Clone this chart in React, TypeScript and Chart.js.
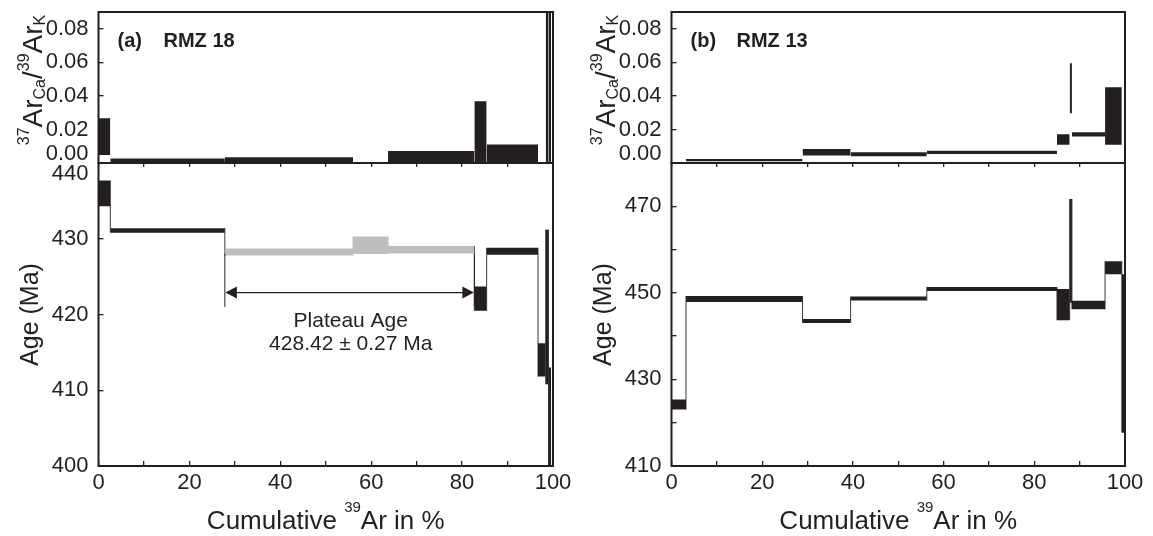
import React, { useEffect, useRef } from 'react';
import { Chart, registerables } from 'chart.js';

Chart.register(...registerables);

const W = 1153;
const H = 536;
const FONT = "'Liberation Sans', Arial, Helvetica, sans-serif";
const INK = '#231f20';
const GRAY = '#bcbec0';
const LINK = '#3a3a3a';

// ---------------- data ----------------
// x tick labels (cumulative 39Ar %)
const CUM_TICK_LABELS = ['0', '20', '40', '60', '80', '100'];
// Ca/K tick labels
const CAK_TICK_LABELS = ['0.00', '0.02', '0.04', '0.06', '0.08'];
const CAK_MIN = 0;
const CAK_MAX = 0.09;

// Panel (a) RMZ 18
const A_STEPS = [0, 2.6, 27.8, 56.0, 63.7, 82.7, 85.4, 96.7, 98.4, 99.0, 99.6];
const A_AGE = [436.0, 431.1, 428.25, 429.15, 428.55, 422.1, 428.35, 414.0, 421.0, 406.0];
const A_AGE_ERR = [1.7, 0.3, 0.45, 1.15, 0.5, 1.6, 0.45, 2.2, 10.2, 7.0];
const A_PLATEAU = [false, false, true, true, true, false, false, false, false, false];
const A_CAK = [0.0157, 0.0012, 0.0017, 0.0, 0.0036, 0.0184, 0.0055, -0.003, 0.05, 0.05];
const A_CAK_ERR = [0.0109, 0.0015, 0.0017, 0.0004, 0.0036, 0.0184, 0.0055, 0.002, 0.06, 0.06];
const A_AGE_TICK_LABELS = ['400', '410', '420', '430', '440'];

// Panel (b) RMZ 13
const B_STEPS = [0, 3.2, 28.9, 39.5, 56.3, 85.0, 87.8, 88.3, 95.6, 99.3, 99.8];
const B_AGE = [424.2, 448.6, 443.5, 448.7, 450.9, 447.3, 459.7, 447.2, 455.8, 436.0];
const B_AGE_ERR = [1.15, 0.7, 0.45, 0.45, 0.45, 3.6, 12.0, 1.0, 1.5, 18.3];
const B_PLATEAU = [false, false, false, false, false, false, false, false, false, false];
const B_CAK = [null, 0.0017, 0.0064, 0.0052, 0.0063, 0.014, 0.0446, 0.0171, 0.028, null];
const B_CAK_ERR = [0, 0.0007, 0.0019, 0.0012, 0.001, 0.0031, 0.0149, 0.0013, 0.0171, 0];
const B_AGE_TICK_LABELS = ['410', '430', '450', '470'];

// Plateau annotation (panel a)
const PLATEAU_START = 27.8;
const PLATEAU_END = 82.7;
const PLATEAU_MARK_TOP = 428.0;
const PLATEAU_MARK_BOTTOM = 421.0;
const PLATEAU_ARROW_AGE = 422.9;
const PLATEAU_TEXT = ['Plateau Age', '428.42 \u00b1 0.27 Ma'];
const PLATEAU_TEXT_X = 55.5;
const PLATEAU_TEXT_Y = [418.3, 415.3];

const PANELS = [
  {
    tag: '(a)', sample: 'RMZ 18', steps: A_STEPS, age: A_AGE, ageErr: A_AGE_ERR, plateau: A_PLATEAU,
    cak: A_CAK, cakErr: A_CAK_ERR, ageMin: 400, ageMax: 440, ageLabels: A_AGE_TICK_LABELS, showPlateau: true,
  },
  {
    tag: '(b)', sample: 'RMZ 13', steps: B_STEPS, age: B_AGE, ageErr: B_AGE_ERR, plateau: B_PLATEAU,
    cak: B_CAK, cakErr: B_CAK_ERR, ageMin: 410, ageMax: 480, ageLabels: B_AGE_TICK_LABELS, showPlateau: false,
  },
];

// ---------------- layout ----------------
const PLOT_X = [[98.5, 553], [671.5, 1125]];
const TOP_Y = 12;
const MID_Y = 163;
const BOT_Y = 466;

function boxSets(steps: number[], vals: (number | null)[], errs: number[], colors: string[]) {
  const out: any[] = [];
  for (let i = 0; i < vals.length; i++) {
    const v = vals[i];
    if (v == null) continue;
    const e = errs[i];
    out.push({
      type: 'line',
      data: [{ x: steps[i], y: v + e }, { x: steps[i + 1], y: v + e }],
      fill: { value: v - e },
      backgroundColor: colors[i],
      borderColor: 'rgba(0,0,0,0)',
      borderWidth: 0,
      pointRadius: 0,
      pointHoverRadius: 0,
    });
  }
  return out;
}

function linkSets(steps: number[], vals: number[], errs: number[], plateau: boolean[]) {
  const out: any[] = [];
  for (let j = 1; j < vals.length; j++) {
    const lo = Math.min(vals[j - 1] - errs[j - 1], vals[j] - errs[j]);
    const hi = Math.max(vals[j - 1] + errs[j - 1], vals[j] + errs[j]);
    out.push({
      type: 'line',
      data: [{ x: steps[j], y: lo }, { x: steps[j], y: hi }],
      borderColor: plateau[j - 1] && plateau[j] ? GRAY : LINK,
      borderWidth: 1,
      pointRadius: 0,
      fill: false,
    });
  }
  return out;
}

function drawFrame(ctx: CanvasRenderingContext2D, a: any) {
  ctx.save();
  ctx.strokeStyle = INK;
  ctx.lineWidth = 2;
  ctx.strokeRect(a.left, a.top, a.right - a.left, a.bottom - a.top);
  ctx.restore();
}

function drawYLabels(chart: any, labels: string[], fmt: (v: number) => string, clamp: 'top' | 'bottom') {
  const ctx = chart.ctx;
  const s = chart.scales.y;
  const a = chart.chartArea;
  ctx.save();
  ctx.font = `22px ${FONT}`;
  ctx.fillStyle = INK;
  ctx.textAlign = 'right';
  ctx.textBaseline = 'middle';
  for (const t of s.ticks) {
    const label = fmt(t.value);
    if (!labels.includes(label)) continue;
    let y = s.getPixelForValue(t.value);
    if (clamp === 'bottom') y = Math.min(y, a.bottom - 9);
    else y = Math.max(y, a.top + 11);
    ctx.fillText(label, a.left - 10, y);
  }
  ctx.restore();
}

type Part = { t: string; size: number; dy: number };

function drawParts(ctx: CanvasRenderingContext2D, parts: Part[], cx: number, base: number) {
  let total = 0;
  for (const p of parts) {
    ctx.font = `${p.size}px ${FONT}`;
    total += ctx.measureText(p.t).width;
  }
  let x = cx - total / 2;
  ctx.textAlign = 'left';
  ctx.textBaseline = 'alphabetic';
  for (const p of parts) {
    ctx.font = `${p.size}px ${FONT}`;
    ctx.fillText(p.t, x, base + p.dy);
    x += ctx.measureText(p.t).width;
  }
}

const CAK_TITLE: Part[] = [
  { t: '37', size: 16, dy: -13 },
  { t: 'Ar', size: 28, dy: 0 },
  { t: 'Ca', size: 16, dy: 3 },
  { t: '/', size: 28, dy: 0 },
  { t: '39', size: 16, dy: -13 },
  { t: 'Ar', size: 28, dy: 0 },
  { t: 'K', size: 16, dy: 3 },
];

const X_TITLE: Part[] = [
  { t: 'Cumulative ', size: 26, dy: 0 },
  { t: '39', size: 15, dy: -17 },
  { t: 'Ar in %', size: 26, dy: 0 },
];

function topDeco(p: any, idx: number) {
  return {
    id: 'topDeco' + idx,
    afterDraw(chart: any) {
      const ctx = chart.ctx;
      const a = chart.chartArea;
      drawFrame(ctx, a);
      drawYLabels(chart, CAK_TICK_LABELS, (v) => v.toFixed(2), 'bottom');
      ctx.save();
      ctx.fillStyle = INK;
      ctx.translate(a.left - 57, 80);
      ctx.rotate(-Math.PI / 2);
      drawParts(ctx, CAK_TITLE, 0, 0);
      ctx.restore();
      ctx.save();
      ctx.fillStyle = INK;
      ctx.font = `bold 20px ${FONT}`;
      ctx.textAlign = 'left';
      ctx.textBaseline = 'alphabetic';
      ctx.fillText(p.tag, a.left + 19, 47);
      ctx.fillText(p.sample, a.left + 65, 47);
      ctx.restore();
    },
  };
}

function bottomDeco(p: any, idx: number) {
  return {
    id: 'bottomDeco' + idx,
    afterDatasetsDraw(chart: any) {
      if (!p.showPlateau) return;
      const ctx = chart.ctx;
      const xs = chart.scales.x;
      const ys = chart.scales.y;
      const x0 = xs.getPixelForValue(PLATEAU_START);
      const x1 = xs.getPixelForValue(PLATEAU_END);
      const yTop = ys.getPixelForValue(PLATEAU_MARK_TOP);
      const yBot = ys.getPixelForValue(PLATEAU_MARK_BOTTOM);
      const ya = ys.getPixelForValue(PLATEAU_ARROW_AGE);
      ctx.save();
      ctx.strokeStyle = INK;
      ctx.fillStyle = INK;
      ctx.lineWidth = 1;
      ctx.beginPath();
      ctx.moveTo(x0, yTop);
      ctx.lineTo(x0, yBot);
      ctx.moveTo(x1, yTop);
      ctx.lineTo(x1, yBot);
      ctx.stroke();
      ctx.lineWidth = 1.2;
      ctx.beginPath();
      ctx.moveTo(x0 + 10, ya);
      ctx.lineTo(x1 - 10, ya);
      ctx.stroke();
      const ah = 12;
      const hw = 6;
      ctx.beginPath();
      ctx.moveTo(x0 + 0.5, ya);
      ctx.lineTo(x0 + ah, ya - hw);
      ctx.lineTo(x0 + ah, ya + hw);
      ctx.closePath();
      ctx.fill();
      ctx.beginPath();
      ctx.moveTo(x1 - 0.5, ya);
      ctx.lineTo(x1 - ah, ya - hw);
      ctx.lineTo(x1 - ah, ya + hw);
      ctx.closePath();
      ctx.fill();
      ctx.font = `21px ${FONT}`;
      ctx.textAlign = 'center';
      ctx.textBaseline = 'alphabetic';
      const tx = xs.getPixelForValue(PLATEAU_TEXT_X);
      ctx.fillText(PLATEAU_TEXT[0], tx, ys.getPixelForValue(PLATEAU_TEXT_Y[0]));
      ctx.fillText(PLATEAU_TEXT[1], tx, ys.getPixelForValue(PLATEAU_TEXT_Y[1]));
      ctx.restore();
    },
    afterDraw(chart: any) {
      const ctx = chart.ctx;
      const a = chart.chartArea;
      drawFrame(ctx, a);
      drawYLabels(chart, p.ageLabels, (v) => String(Math.round(v)), 'top');
      ctx.save();
      ctx.fillStyle = INK;
      ctx.font = `25px ${FONT}`;
      ctx.textAlign = 'center';
      ctx.textBaseline = 'alphabetic';
      ctx.translate(a.left - 61, (a.top + a.bottom) / 2);
      ctx.rotate(-Math.PI / 2);
      ctx.fillText('Age (Ma)', 0, 0);
      ctx.restore();
      ctx.save();
      ctx.fillStyle = INK;
      drawParts(ctx, X_TITLE, (a.left + a.right) / 2, 529);
      ctx.restore();
    },
  };
}

function topConfig(p: any, idx: number): any {
  const [L, R] = PLOT_X[idx];
  const colors = p.cak.map(() => INK);
  return {
    type: 'line',
    data: { datasets: boxSets(p.steps, p.cak, p.cakErr, colors) },
    options: {
      animation: false,
      responsive: false,
      events: [],
      layout: { padding: { left: L, right: W - R, top: TOP_Y, bottom: H - MID_Y - 5 } },
      plugins: { legend: { display: false }, tooltip: { enabled: false } },
      scales: {
        x: {
          type: 'linear', min: 0, max: 100,
          afterFit: (s: any) => { s.height = 5; },
          ticks: { display: false, stepSize: 10 },
          grid: { drawOnChartArea: false, tickLength: 4, color: INK, lineWidth: 1.3 },
          border: { display: false },
        },
        y: {
          type: 'linear', min: CAK_MIN, max: CAK_MAX,
          afterFit: (s: any) => { s.width = 0; },
          ticks: { display: false, stepSize: 0.02, includeBounds: false },
          grid: { drawOnChartArea: false, tickLength: -5, color: INK, lineWidth: 1.3 },
          border: { display: false },
        },
      },
    },
    plugins: [topDeco(p, idx)],
  };
}

function bottomConfig(p: any, idx: number): any {
  const [L, R] = PLOT_X[idx];
  const colors = p.plateau.map((q: boolean) => (q ? GRAY : INK));
  const datasets = [
    ...boxSets(p.steps, p.age, p.ageErr, colors),
    ...linkSets(p.steps, p.age, p.ageErr, p.plateau),
  ];
  return {
    type: 'line',
    data: { datasets },
    options: {
      animation: false,
      responsive: false,
      events: [],
      layout: { padding: { left: L, right: W - R, top: MID_Y, bottom: 0 } },
      plugins: { legend: { display: false }, tooltip: { enabled: false } },
      scales: {
        x: {
          type: 'linear', min: 0, max: 100,
          afterFit: (s: any) => { s.height = H - BOT_Y; },
          ticks: {
            stepSize: 10, autoSkip: false, maxRotation: 0, minRotation: 0, padding: 9,
            color: INK, font: { family: FONT, size: 22 },
            callback: (v: number) => (CUM_TICK_LABELS.includes(String(v)) ? String(v) : ''),
          },
          grid: { drawOnChartArea: false, tickLength: -5, color: INK, lineWidth: 1.3 },
          border: { display: false },
        },
        y: {
          type: 'linear', min: p.ageMin, max: p.ageMax,
          afterFit: (s: any) => { s.width = 0; },
          ticks: { display: false, stepSize: 10 },
          grid: { drawOnChartArea: false, tickLength: -5, color: INK, lineWidth: 1.3 },
          border: { display: false },
        },
      },
    },
    plugins: [bottomDeco(p, idx)],
  };
}

export default function App() {
  const refs = [useRef<HTMLCanvasElement>(null), useRef<HTMLCanvasElement>(null), useRef<HTMLCanvasElement>(null), useRef<HTMLCanvasElement>(null)];
  useEffect(() => {
    const charts: Chart[] = [];
    PANELS.forEach((p, i) => {
      const c1 = refs[i * 2].current;
      const c2 = refs[i * 2 + 1].current;
      if (c1) charts.push(new Chart(c1, topConfig(p, i)));
      if (c2) charts.push(new Chart(c2, bottomConfig(p, i)));
    });
    return () => charts.forEach((c) => c.destroy());
  }, []);
  const style: React.CSSProperties = { position: 'absolute', left: 0, top: 0, width: W, height: H };
  return (
    <div style={{ position: 'absolute', left: 0, top: 0, width: W, height: H, background: '#fff', overflow: 'hidden' }}>
      {refs.map((r, i) => (
        <canvas key={i} ref={r} width={W} height={H} style={style} />
      ))}
    </div>
  );
}
